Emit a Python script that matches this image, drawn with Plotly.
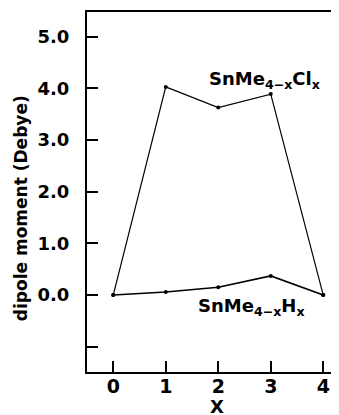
import plotly.graph_objects as go

x_vals = [0, 1, 2, 3, 4]
cl_vals = [0.0, 4.03, 3.63, 3.89, 0.0]
h_vals = [0.0, 0.06, 0.15, 0.37, 0.0]
y_tickvals = [-1, 0, 1, 2, 3, 4, 5]
y_ticktext = ["", "0.0", "1.0", "2.0", "3.0", "4.0", "5.0"]
x_tickvals = [0, 1, 2, 3, 4]
x_ticktext = ["0", "1", "2", "3", "4"]

FONT = "DejaVu Sans"
fig = go.Figure()
fig.add_trace(go.Scatter(x=x_vals, y=cl_vals, mode="lines+markers",
                         line=dict(color="black", width=1.2),
                         marker=dict(color="black", size=4)))
fig.add_trace(go.Scatter(x=x_vals, y=h_vals, mode="lines+markers",
                         line=dict(color="black", width=1.6),
                         marker=dict(color="black", size=4)))

fig.update_layout(
    width=331, height=407,
    margin=dict(l=79, r=0, t=4, b=43, autoexpand=False),
    paper_bgcolor="white", plot_bgcolor="white",
    showlegend=False,
    font=dict(family=FONT, color="black"),
    xaxis=dict(range=[-0.5, 4.3], tickvals=x_tickvals, ticktext=x_ticktext,
               ticks="inside", ticklen=11, tickwidth=2, tickcolor="black",
               showline=True, linecolor="black", linewidth=2, mirror=True,
               showgrid=False, zeroline=False,
               tickfont=dict(size=19, family=FONT, weight="bold"),
               ticklabelstandoff=-4),
    yaxis=dict(range=[-1.49, 5.48], tickvals=y_tickvals, ticktext=y_ticktext,
               ticks="inside", ticklen=11, tickwidth=2, tickcolor="black",
               showline=True, linecolor="black", linewidth=2, mirror=False,
               showgrid=False, zeroline=False,
               tickfont=dict(size=18, family=FONT, weight="bold"),
               ticklabelstandoff=12),
)

fig.add_annotation(text="dipole moment (Debye)", textangle=-90,
                   xref="paper", yref="paper", x=-0.262, y=0.455,
                   xanchor="center", yanchor="middle", showarrow=False,
                   font=dict(size=17, family=FONT, weight="bold"))
fig.add_annotation(text="X", xref="paper", yref="paper", x=(217-87)/252, y=-(406-372)/360,
                   xanchor="center", yanchor="middle", showarrow=False,
                   font=dict(size=18, family=FONT, weight="bold"))
fig.add_annotation(text="SnMe<sub>4\u2212x</sub>Cl<sub>x</sub>", xref="paper", yref="paper",
                   x=(207-87)/252, y=(372-80)/360, xanchor="left", yanchor="middle",
                   showarrow=False, font=dict(size=18, family=FONT, weight="bold"))
fig.add_annotation(text="SnMe<sub>4\u2212x</sub>H<sub>x</sub>", xref="paper", yref="paper",
                   x=(196-87)/252, y=(372-307)/360, xanchor="left", yanchor="middle",
                   showarrow=False, font=dict(size=18, family=FONT, weight="bold"))

fig.write_html("out.html")
